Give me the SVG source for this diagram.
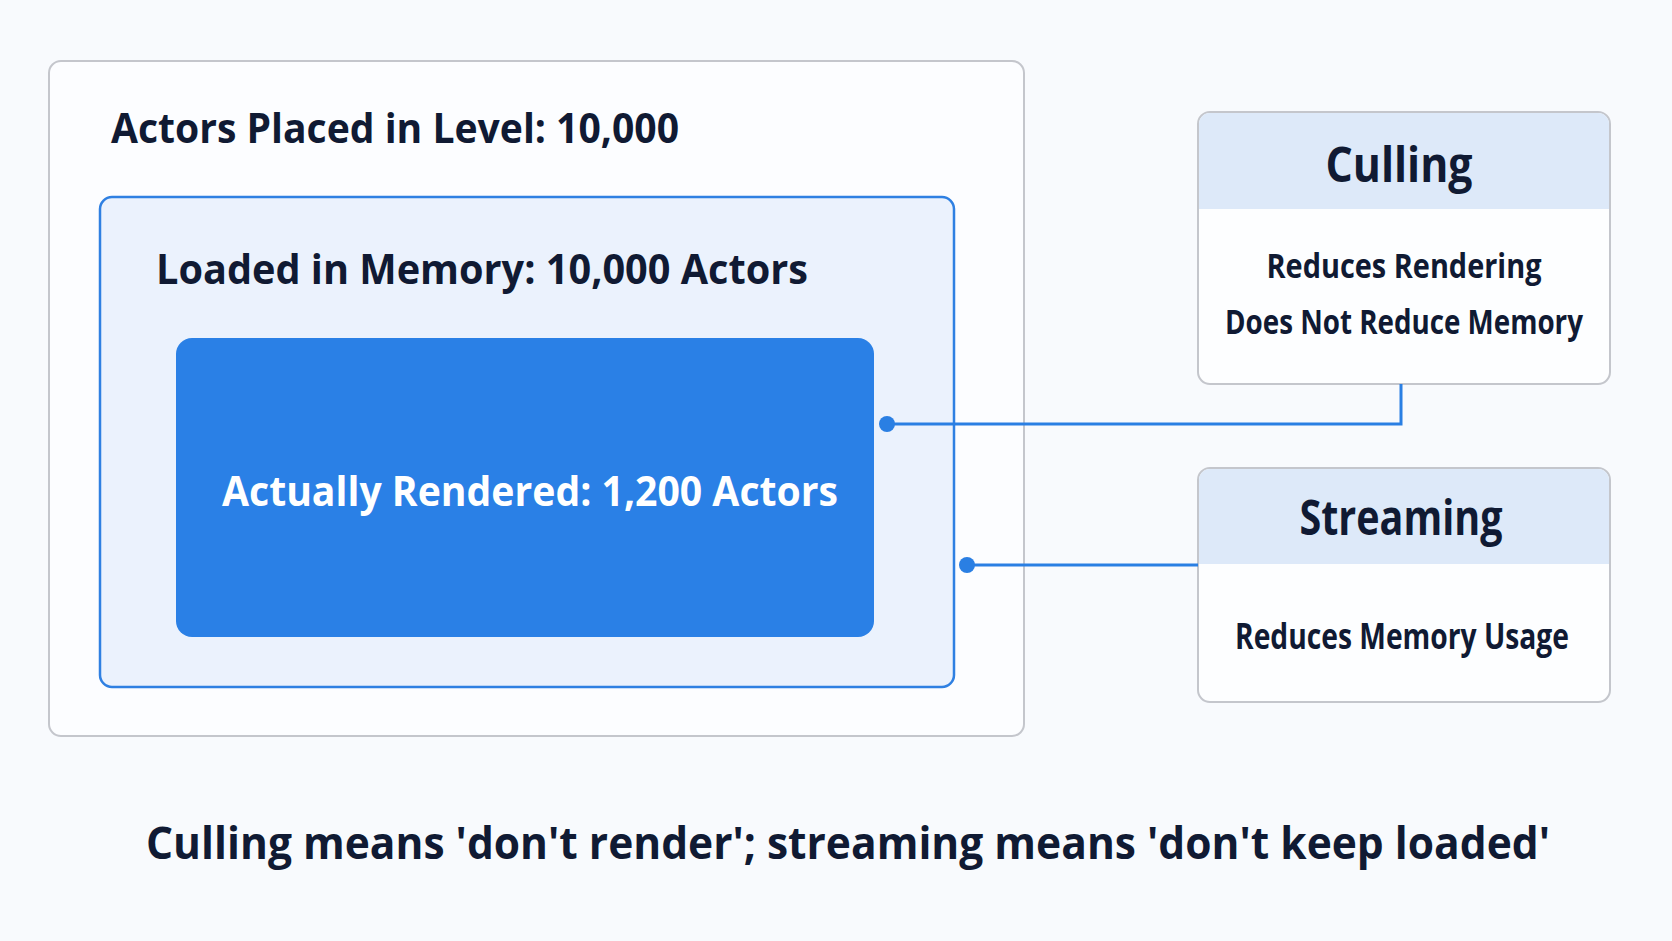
<svg xmlns="http://www.w3.org/2000/svg" width="1672" height="941" viewBox="0 0 1672 941">
<style>
.t{font-family:"Open Sans","Liberation Sans",sans-serif;font-weight:700;fill:#101a33}
.w{fill:#ffffff}
.card{fill:#fdfeff;stroke:#c4c6cc;stroke-width:2}
.hdr{fill:#dde9f9}
.conn{fill:none;stroke:#2a7fe3;stroke-width:3}
.dot{fill:#2a7fe3}
</style>
<rect x="0" y="0" width="1672" height="941" fill="#f8fafd"/>
<g id="outer">
<rect x="49" y="61" width="975" height="675" rx="12" fill="#fcfdff" stroke="#c4c6cc" stroke-width="2"/>
<text class="t" x="111" y="143" font-size="42" textLength="568" lengthAdjust="spacingAndGlyphs">Actors Placed in Level: 10,000</text>
</g>
<g id="memory">
<rect x="100" y="197" width="854" height="490" rx="12" fill="#ebf2fd" stroke="#2f80e2" stroke-width="2.5"/>
<text class="t" x="156" y="284" font-size="42" textLength="652" lengthAdjust="spacingAndGlyphs">Loaded in Memory: 10,000 Actors</text>
</g>
<g id="rendered">
<rect x="176" y="338" width="698" height="299" rx="16" fill="#2a80e6"/>
<text class="t w" x="222" y="506" font-size="42" textLength="616" lengthAdjust="spacingAndGlyphs">Actually Rendered: 1,200 Actors</text>
</g>
<g id="culling">
<rect class="card" x="1198" y="112" width="412" height="272" rx="12"/>
<path class="hdr" d="M1199,209 V124 a11,11 0 0 1 11,-11 H1598 a11,11 0 0 1 11,11 V209 Z"/>
<text class="t" x="1399" y="182" font-size="48" text-anchor="middle" textLength="147" lengthAdjust="spacingAndGlyphs">Culling</text>
<text class="t" x="1404" y="278" font-size="34" text-anchor="middle" textLength="275" lengthAdjust="spacingAndGlyphs">Reduces Rendering</text>
<text class="t" x="1404" y="334" font-size="34" text-anchor="middle" textLength="358" lengthAdjust="spacingAndGlyphs">Does Not Reduce Memory</text>
</g>
<g id="streaming">
<rect class="card" x="1198" y="468" width="412" height="234" rx="12"/>
<path class="hdr" d="M1199,564 V480 a11,11 0 0 1 11,-11 H1598 a11,11 0 0 1 11,11 V564 Z"/>
<text class="t" x="1401" y="535" font-size="48" text-anchor="middle" textLength="203" lengthAdjust="spacingAndGlyphs">Streaming</text>
<text class="t" x="1402" y="649" font-size="36" text-anchor="middle" textLength="334" lengthAdjust="spacingAndGlyphs">Reduces Memory Usage</text>
</g>
<g id="connectors">
<path class="conn" d="M887,424 H1401 V384"/>
<circle class="dot" cx="887" cy="424" r="8"/>
<path class="conn" d="M967,565 H1198"/>
<circle class="dot" cx="967" cy="565" r="8"/>
</g>
<g id="caption">
<text class="t" x="848" y="859" font-size="44" text-anchor="middle" textLength="1404" lengthAdjust="spacingAndGlyphs">Culling means 'don't render'; streaming means 'don't keep loaded'</text>
</g>
</svg>
